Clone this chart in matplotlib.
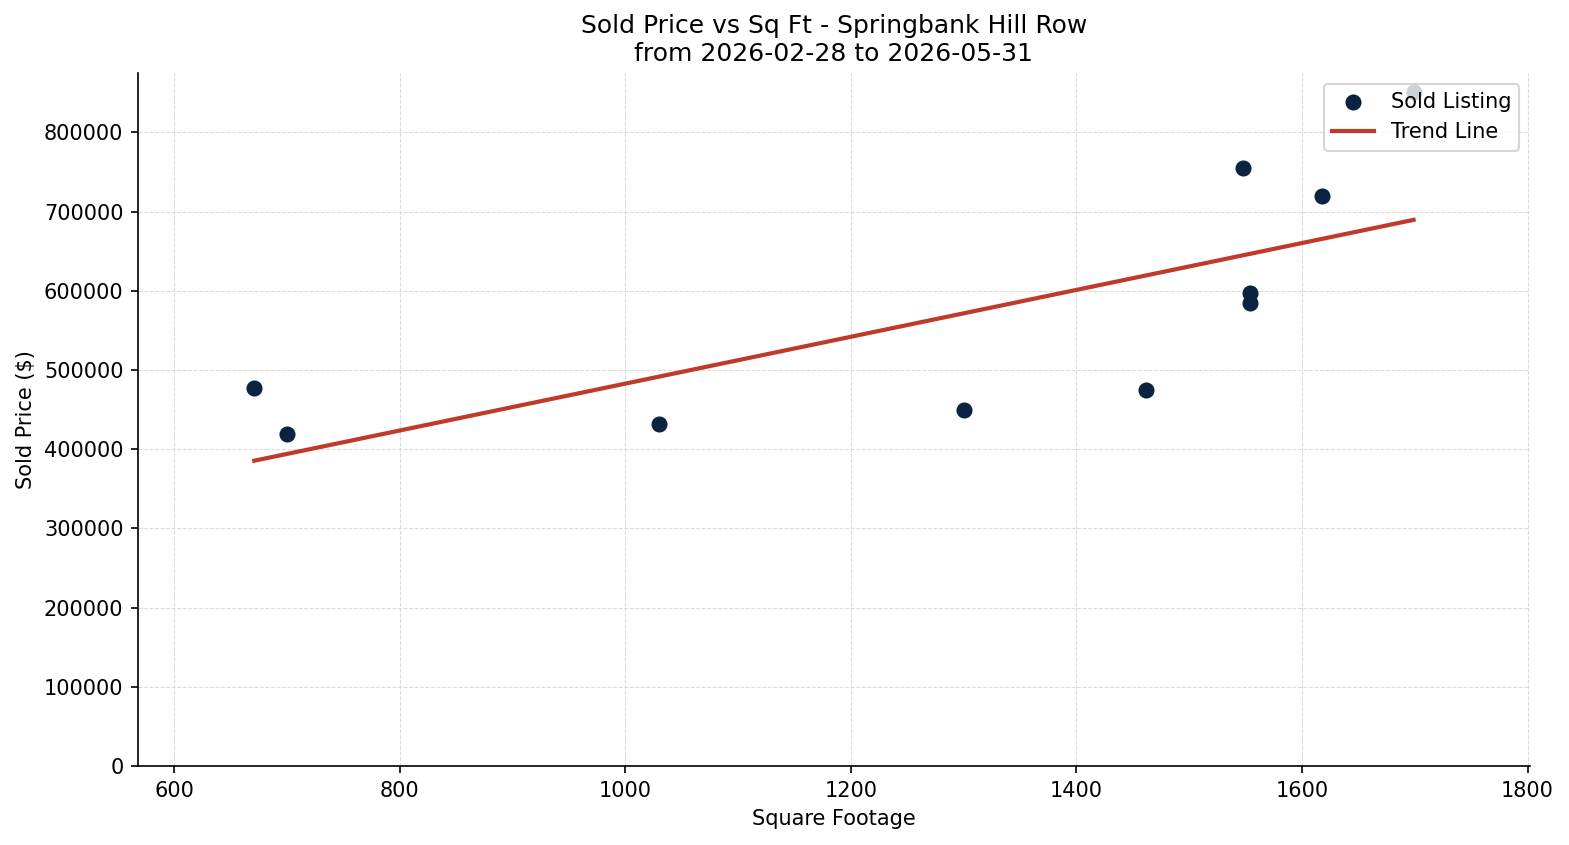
import numpy as np
import matplotlib
matplotlib.use("Agg")
import matplotlib.pyplot as plt

sqft = [671, 700, 1030, 1300, 1462, 1548, 1554, 1554, 1618, 1699]
price = [477000, 419000, 431500, 449200, 474400, 754600, 596800, 584200, 719200, 850500]

point_color = "#0b2340"
line_color = "#c0392b"

fig = plt.figure(figsize=(1569/150, 845/150), dpi=150)
ax = fig.add_axes([0.088, 0.0935, 0.887, 0.82])

ax.scatter(sqft, price, s=45, color=point_color, zorder=3, label="Sold Listing")
coef = np.polyfit(sqft, price, 1)
xs = np.array([min(sqft), max(sqft)])
ax.plot(xs, np.polyval(coef, xs), color=line_color, lw=2, zorder=2, label="Trend Line")

ax.set_xlim(568, 1802)
ax.set_ylim(0, 875000)
ax.set_xticks([600, 800, 1000, 1200, 1400, 1600, 1800])
ax.set_yticks(range(0, 800001, 100000))
ax.ticklabel_format(style="plain", axis="y")
ax.grid(True, linestyle="--", linewidth=0.5, color="#dadada")
ax.set_axisbelow(True)
for s in ["top", "right"]:
    ax.spines[s].set_visible(False)

ax.set_xlabel("Square Footage", fontsize=10)
ax.set_ylabel("Sold Price ($)", fontsize=10)
ax.set_title("Sold Price vs Sq Ft - Springbank Hill Row\nfrom 2026-02-28 to 2026-05-31", fontsize=12)
ax.tick_params(labelsize=10)
leg = ax.legend(loc="upper right", fontsize=10, framealpha=0.8)

fig.savefig("out.png", dpi=150)
